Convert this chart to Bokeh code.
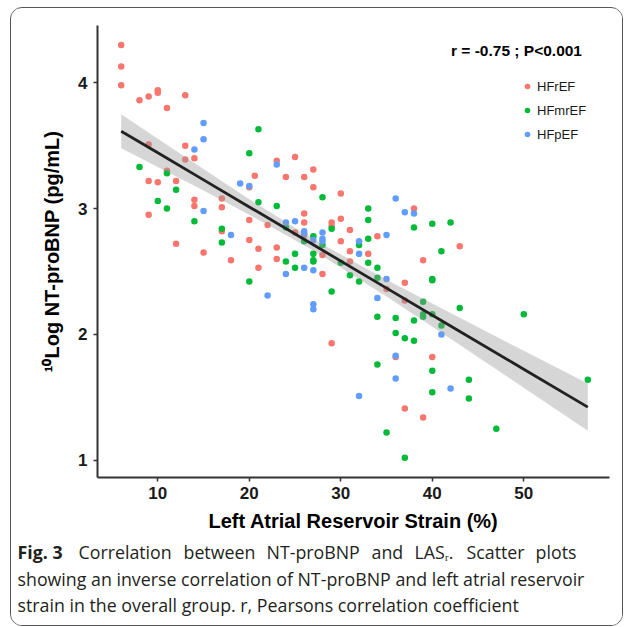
from bokeh.plotting import figure
from bokeh.layouts import column
from bokeh.models import Label, Legend, LegendItem, FixedTicker
from bokeh.embed import file_html
from bokeh.resources import INLINE

# ---- data ----
hfref_x = [6, 6, 6, 8, 9, 10, 10, 11, 13, 9, 13, 14, 13, 23, 25, 24, 11, 20.6, 9, 10, 12, 20,
           9, 14, 14, 17, 17, 20, 22, 25, 17, 20, 21, 23, 23, 12, 15, 18, 21,
           27, 26, 27, 30, 38, 26, 30, 26, 29, 29, 31, 26, 30, 34, 31, 33, 28, 31, 39, 43,
           28, 37, 35, 37, 29, 36, 40, 37, 39]
hfref_y = [4.30, 4.13, 3.98, 3.86, 3.89, 3.94, 3.92, 3.80, 3.90, 3.51, 3.50, 3.40, 3.39, 3.38, 3.41, 3.25, 3.30, 3.26, 3.22, 3.21, 3.22, 3.17,
           2.95, 3.07, 3.02, 3.08, 3.01, 2.91, 2.87, 2.81, 2.82, 2.75, 2.68, 2.69, 2.60, 2.72, 2.65, 2.59, 2.53,
           3.31, 3.25, 3.17, 3.12, 3.00, 2.96, 2.92, 2.89, 2.89, 2.86, 2.83, 2.79, 2.74, 2.78, 2.66, 2.64, 2.63, 2.58, 2.59, 2.70,
           2.48, 2.41, 2.36, 2.27, 1.93, 1.82, 1.82, 1.41, 1.34]

hfmref_x = [21, 20, 8, 11, 12, 10, 11, 14, 17, 17, 21, 23, 24, 24, 25, 25, 20,
            28, 33, 33, 29, 40, 42, 38, 27, 26, 28, 32, 33, 27, 27, 27, 30, 33, 41, 34, 31, 32, 34, 40, 40,
            29, 39, 39, 39, 40, 43, 50, 34, 36, 38, 41, 36, 37, 38,
            34, 40, 44, 40, 44, 47, 35, 37, 57]
hfmref_y = [3.63, 3.44, 3.33, 3.28, 3.15, 3.06, 3.00, 2.90, 2.84, 2.73, 3.05, 3.02, 2.85, 2.58, 2.64, 2.53, 2.42,
            3.09, 3.00, 2.91, 2.84, 2.88, 2.89, 2.85, 2.78, 2.74, 2.71, 2.71, 2.76, 2.64, 2.59, 2.58, 2.57, 2.57, 2.66, 2.53, 2.47, 2.42, 2.45, 2.44, 2.43,
            2.34, 2.26, 2.16, 2.14, 2.16, 2.21, 2.16, 2.14, 2.13, 2.11, 2.07, 2.01, 1.97, 1.95,
            1.76, 1.71, 1.64, 1.54, 1.49, 1.25, 1.22, 1.02, 1.64]

hfpef_x = [15, 15, 14, 23, 19, 20, 15, 18, 24, 25, 24, 22,
           36, 37, 38, 26, 26, 28, 27, 28, 28, 35, 32, 32, 26, 27, 35, 34, 41, 27, 27, 36, 36, 42, 32]
hfpef_y = [3.68, 3.55, 3.47, 3.35, 3.20, 3.18, 2.98, 2.79, 2.89, 2.90, 2.48, 2.31,
           3.08, 2.97, 2.96, 2.82, 2.80, 2.81, 2.75, 2.76, 2.74, 2.79, 2.74, 2.64, 2.53, 2.51, 2.44, 2.29, 2.00, 2.24, 2.20, 1.83, 1.65, 1.57, 1.51]

# fitted regression line and its confidence band
fit_x = [6, 10, 15, 20, 27, 35, 42, 50, 57]
fit_y = [3.615, 3.443, 3.228, 3.013, 2.712, 2.368, 2.067, 1.723, 1.422]
fit_lower = [3.480, 3.331, 3.143, 2.951, 2.667, 2.302, 1.965, 1.576, 1.235]
fit_upper = [3.750, 3.555, 3.314, 3.075, 2.757, 2.434, 2.169, 1.870, 1.609]

x_ticks = [10, 20, 30, 40, 50]
y_ticks = [1, 2, 3, 4]
group_names = ["HFrEF", "HFmrEF", "HFpEF"]
group_colors = ["#F8766D", "#00BA38", "#619CFF"]

# ---- layout geometry (canvas pixels) ----
BOX_L, BOX_T = 10, 7          # outer rounded frame position
IN_L, IN_T = BOX_L + 1, BOX_T + 1
INNER_W = 611
FL, FR, FT, FB = 97, 609, 25, 477   # plot frame edges on the canvas
H1 = 530
H2 = 87

p = figure(width=INNER_W, height=H1, x_range=(3.41, 59.37), y_range=(0.8625, 4.455),
           output_backend="svg", toolbar_location=None,
           min_border_left=FL - IN_L, min_border_right=INNER_W - (FR - IN_L),
           min_border_top=FT - IN_T, min_border_bottom=H1 - (FB - IN_T))
p.outline_line_color = None
p.grid.visible = False
p.background_fill_color = "white"
p.border_fill_color = "white"
p.frame_align = False

for ax, ticks in ((p.xaxis[0], x_ticks), (p.yaxis[0], y_ticks)):
    ax.ticker = FixedTicker(ticks=ticks)
    ax.axis_line_color = "#333333"
    ax.axis_line_width = 2
    ax.major_tick_line_color = "#333333"
    ax.major_tick_line_width = 1.5
    ax.major_tick_in = 0
    ax.major_tick_out = 4
    ax.minor_tick_line_color = None
    ax.major_label_text_font = "Liberation Sans"
    ax.major_label_text_font_style = "bold"
    ax.major_label_text_font_size = "17px"
    ax.major_label_text_color = "#1a1a1a"
    ax.axis_label_text_font = "Liberation Sans"
    ax.axis_label_text_font_style = "bold"
    ax.axis_label_text_font_size = "20px"
    ax.axis_label_text_color = "#000000"

p.xaxis.axis_label = "Left Atrial Reservoir Strain (%)"
p.yaxis.axis_label = "¹⁰Log NT-proBNP (pg/mL)"
p.xaxis.major_label_standoff = 5
p.yaxis.major_label_standoff = 6
p.xaxis.axis_label_standoff = 8
p.yaxis.axis_label_standoff = 12

renderers = []
for xs, ys, c in ((hfref_x, hfref_y, group_colors[0]),
                  (hfmref_x, hfmref_y, group_colors[1]),
                  (hfpef_x, hfpef_y, group_colors[2])):
    r = p.scatter(x=xs, y=ys, size=6.5, fill_color=c, line_color=None)
    renderers.append(r)

p.varea(x=fit_x, y1=fit_lower, y2=fit_upper, fill_color="#999999", fill_alpha=0.4)
p.line(x=fit_x, y=fit_y, line_color="#222222", line_width=2.8)

legend = Legend(items=[LegendItem(label=n, renderers=[r]) for n, r in zip(group_names, renderers)],
                location=(423, 333), border_line_color=None, background_fill_alpha=0,
                label_text_font="Liberation Sans", label_text_font_size="13px",
                label_text_color="#1a1a1a", glyph_width=14, glyph_height=20,
                label_height=20, label_standoff=3, spacing=4, padding=10, margin=0)
p.add_layout(legend)

p.add_layout(Label(x=516 - FL, y=FB - 50, x_units="screen", y_units="screen",
                   text="r = -0.75 ; P<0.001", text_font="Liberation Sans",
                   text_font_size="15.5px", text_font_style="bold",
                   text_align="center", text_baseline="middle", text_color="#000000"))

# ---- caption panel (first line: words placed individually for its word spacing) ----
cap = figure(width=INNER_W, height=H2, x_range=(0, INNER_W), y_range=(0, H2),
             output_backend="svg", toolbar_location=None,
             x_axis_location=None, y_axis_location=None,
             min_border_left=0, min_border_right=0, min_border_top=0, min_border_bottom=0)
cap.outline_line_color = None
cap.grid.visible = False
cap.frame_align = False
CAP_BOTTOM = IN_T + H1 + H2

def cap_label(text, X, Y, style="normal", align="left"):
    cap.add_layout(Label(x=X - IN_L, y=CAP_BOTTOM - Y, x_units="screen", y_units="screen",
                         text=text, text_font="Open Sans", text_font_size="17.8px",
                         text_font_style=style, text_align=align, text_baseline="middle",
                         text_color="#231f20"))

cap_label("Fig. 3", 17, 551, style="bold")
for word, X in (("Correlation", 78), ("between", 183), ("NT-proBNP", 266), ("and", 371),
                ("LASᵣ.", 414), ("Scatter", 466)):
    cap_label(word, X, 551)
cap_label("plots", 576, 551, align="right")
cap_label("showing an inverse correlation of NT-proBNP and left atrial reservoir", 17, 578)
cap_label("strain in the overall group. r, Pearsons correlation coefficient", 17, 604)

root = column(p, cap, margin=(BOX_T, 0, 0, BOX_L),
              styles={"border": "1px solid #555555", "border-radius": "12px",
                      "overflow": "hidden", "background-color": "white"})

open("out.html", "w").write(file_html(root, INLINE))
